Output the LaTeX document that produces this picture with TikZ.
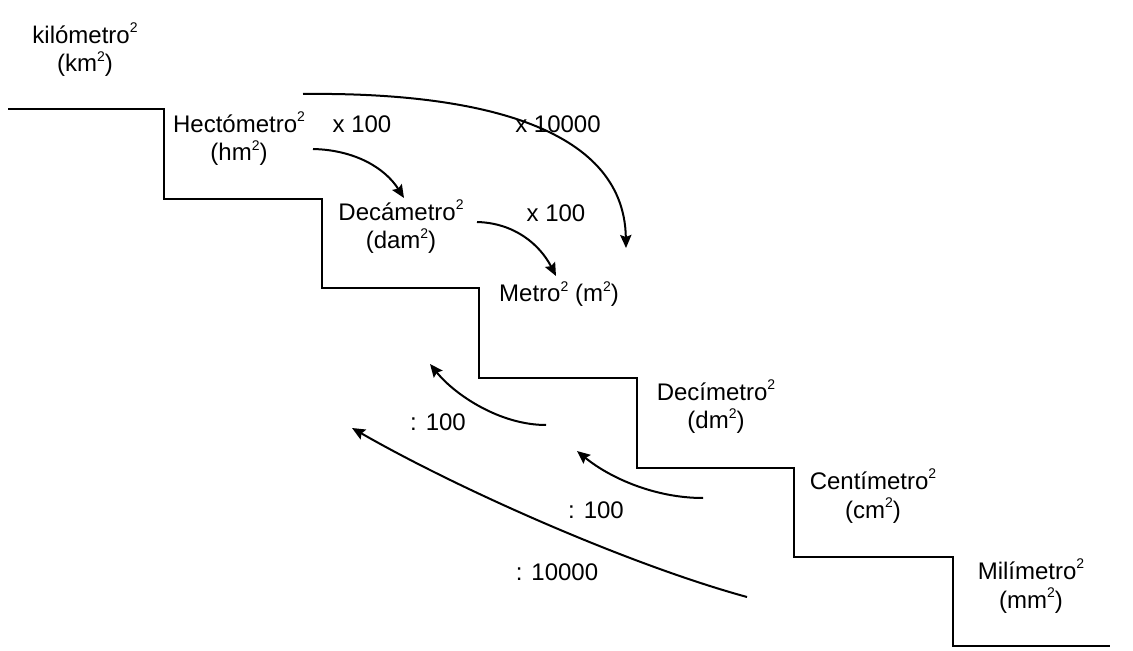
\documentclass[tikz,border=0pt]{standalone}
\usepackage{fontspec}
\setmainfont{Liberation Sans}
\usetikzlibrary{arrows.meta}

\newcommand{\dos}{\raisebox{5.3pt}{\fontsize{7}{8}\selectfont 2}}

\tikzset{
  unidad/.style={align=center, inner sep=0pt, anchor=base, font=\fontsize{12}{14.4}\selectfont},
  factor/.style={inner sep=0pt, anchor=base, font=\fontsize{12}{14.4}\selectfont},
  escalon/.style={line width=0.65pt},
  flecha/.style={line width=1pt, -{Stealth[length=6.5pt,width=5.6pt,inset=1pt]}}
}

\begin{document}
\begin{tikzpicture}[x=0.5pt,y=-0.5pt]
\useasboundingbox (0,0) rectangle (1133,651);
% escalera
\draw [escalon] (8,109) -| (164,199) -| (322,288) -| (479,378) -| (637,468) -| (794,557) -| (953,646) -- (1110,646);
% unidades (base = segunda linea)
\node [unidad] (km) at (85,72) {kilómetro\dos\\(km\dos)};
\node [unidad] (hm) at (239,161) {Hectómetro\dos\\(hm\dos)};
\node [unidad] (dam) at (401,249) {Decámetro\dos\\(dam\dos)};
\node [unidad] (m) at (559,302) {Metro\dos{} (m\dos)};
\node [unidad] (dm) at (716,429) {Decímetro\dos\\(dm\dos)};
\node [unidad] (cm) at (873,518) {Centímetro\dos\\(cm\dos)};
\node [unidad] (mm) at (1031,608) {Milímetro\dos\\(mm\dos)};
% factores
\node [factor] (xhm) at (362,133) {x 100};
\node [factor] (xkm) at (558,133) {x 10000};
\node [factor] (xdam) at (556,222) {x 100};
\node [factor] (ddm) at (438,430) {: 100};
\node [factor] (dcm) at (596,518) {: 100};
\node [factor] (dmm) at (557,580) {: 10000};
% extremos de las flechas
\coordinate (km-a) at (303,94);   \coordinate (km-b) at (626,248);
\coordinate (hm-a) at (313,149);  \coordinate (hm-b) at (404,198);
\coordinate (dam-a) at (477,222); \coordinate (dam-b) at (556,276);
\coordinate (dm-a) at (546,425);  \coordinate (dm-b) at (430,364);
\coordinate (cm-a) at (703,498);  \coordinate (cm-b) at (577,451);
\coordinate (mm-a) at (747,597);  \coordinate (mm-b) at (352,428);
% flechas
\draw [flecha] (km-a) .. controls (470,92) and (624,124) .. (km-b);
\draw [flecha] (hm-a) .. controls (355,150) and (385,168) .. (hm-b);
\draw [flecha] (dam-a) .. controls (515,223) and (540,245) .. (dam-b);
\draw [flecha] (dm-a) .. controls (500,425) and (455,395) .. (dm-b);
\draw [flecha] (cm-a) .. controls (655,498) and (610,478) .. (cm-b);
\draw [flecha] (mm-a) .. controls (630,565) and (460,490) .. (mm-b);
\end{tikzpicture}
\end{document}
